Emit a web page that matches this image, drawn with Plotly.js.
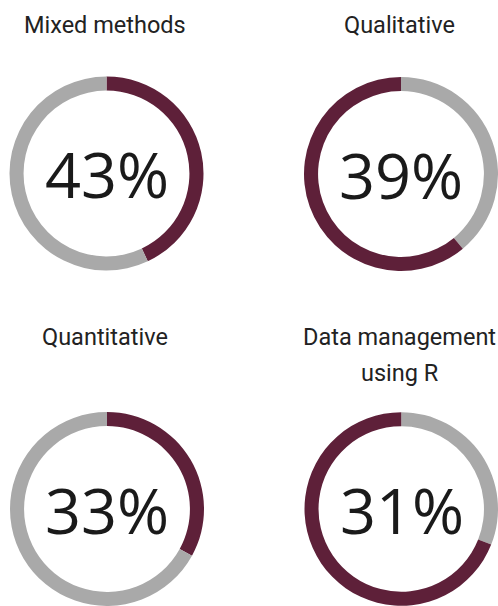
<!DOCTYPE html>
<html>
<head>
<meta charset="utf-8">
<script src="https://cdn.plot.ly/plotly-3.0.1.min.js"></script>
<style>html,body{margin:0;padding:0;background:#fff;}#chart{width:498px;height:606px;}</style>
</head>
<body>
<div id="chart"></div>
<script>
// Data
const categories = ["Mixed methods", "Qualitative", "Quantitative", "Data management<br>using R"];
const percents = [43, 39, 33, 31];
const remainders = [57, 61, 67, 69];
// colour of the first slice (percent) and the second slice (remainder), clockwise from 12 o'clock
const firstColors = ["#5E2039", "#A9A9A9", "#5E2039", "#A9A9A9"];
const secondColors = ["#A9A9A9", "#5E2039", "#A9A9A9", "#5E2039"];
const centerLabels = ["43%", "39%", "33%", "31%"];

// Layout (pixels)
const W = 498, H = 606;
const centers = [[106.5, 173.5], [401, 174], [107, 509], [401.5, 509]];
const R = 97;
const titleY = [25, 25, 337, 337];
const lineGap = 36;

const traces = [];
const annotations = [];
for (let i = 0; i < categories.length; i++) {
  const [cx, cy] = centers[i];
  const x0 = Math.max(0, (cx - R) / W), x1 = Math.min(1, (cx + R) / W);
  const y0 = Math.max(0, 1 - (cy + R) / H), y1 = Math.min(1, 1 - (cy - R) / H);
  traces.push({
    type: "pie",
    values: [percents[i], remainders[i]],
    labels: ["a", "b"],
    marker: {colors: [firstColors[i], secondColors[i]], line: {width: 0}},
    hole: 0.855,
    sort: false,
    direction: "clockwise",
    rotation: 0,
    textinfo: "none",
    hoverinfo: "none",
    showlegend: false,
    domain: {x: [x0, x1], y: [y0, y1]}
  });
  annotations.push({
    text: centerLabels[i],
    x: cx / W, y: 1 - cy / H, xref: "paper", yref: "paper",
    xanchor: "center", yanchor: "middle", showarrow: false,
    font: {family: "Open Sans", size: 63, color: "#1a1a1a"}
  });
  const lines = categories[i].split("<br>");
  lines.forEach((ln, k) => {
    annotations.push({
      text: ln,
      x: (cx - 2) / W, y: 1 - (titleY[i] + k * lineGap) / H, xref: "paper", yref: "paper",
      xanchor: "center", yanchor: "middle", showarrow: false,
      font: {family: "Roboto", size: 23.5, color: "#222222"}
    });
  });
}

Plotly.newPlot("chart", traces, {
  width: W, height: H,
  margin: {l: 0, r: 0, t: 0, b: 0},
  paper_bgcolor: "#ffffff",
  annotations: annotations
}, {displayModeBar: false, staticPlot: true});
</script>
</body>
</html>
